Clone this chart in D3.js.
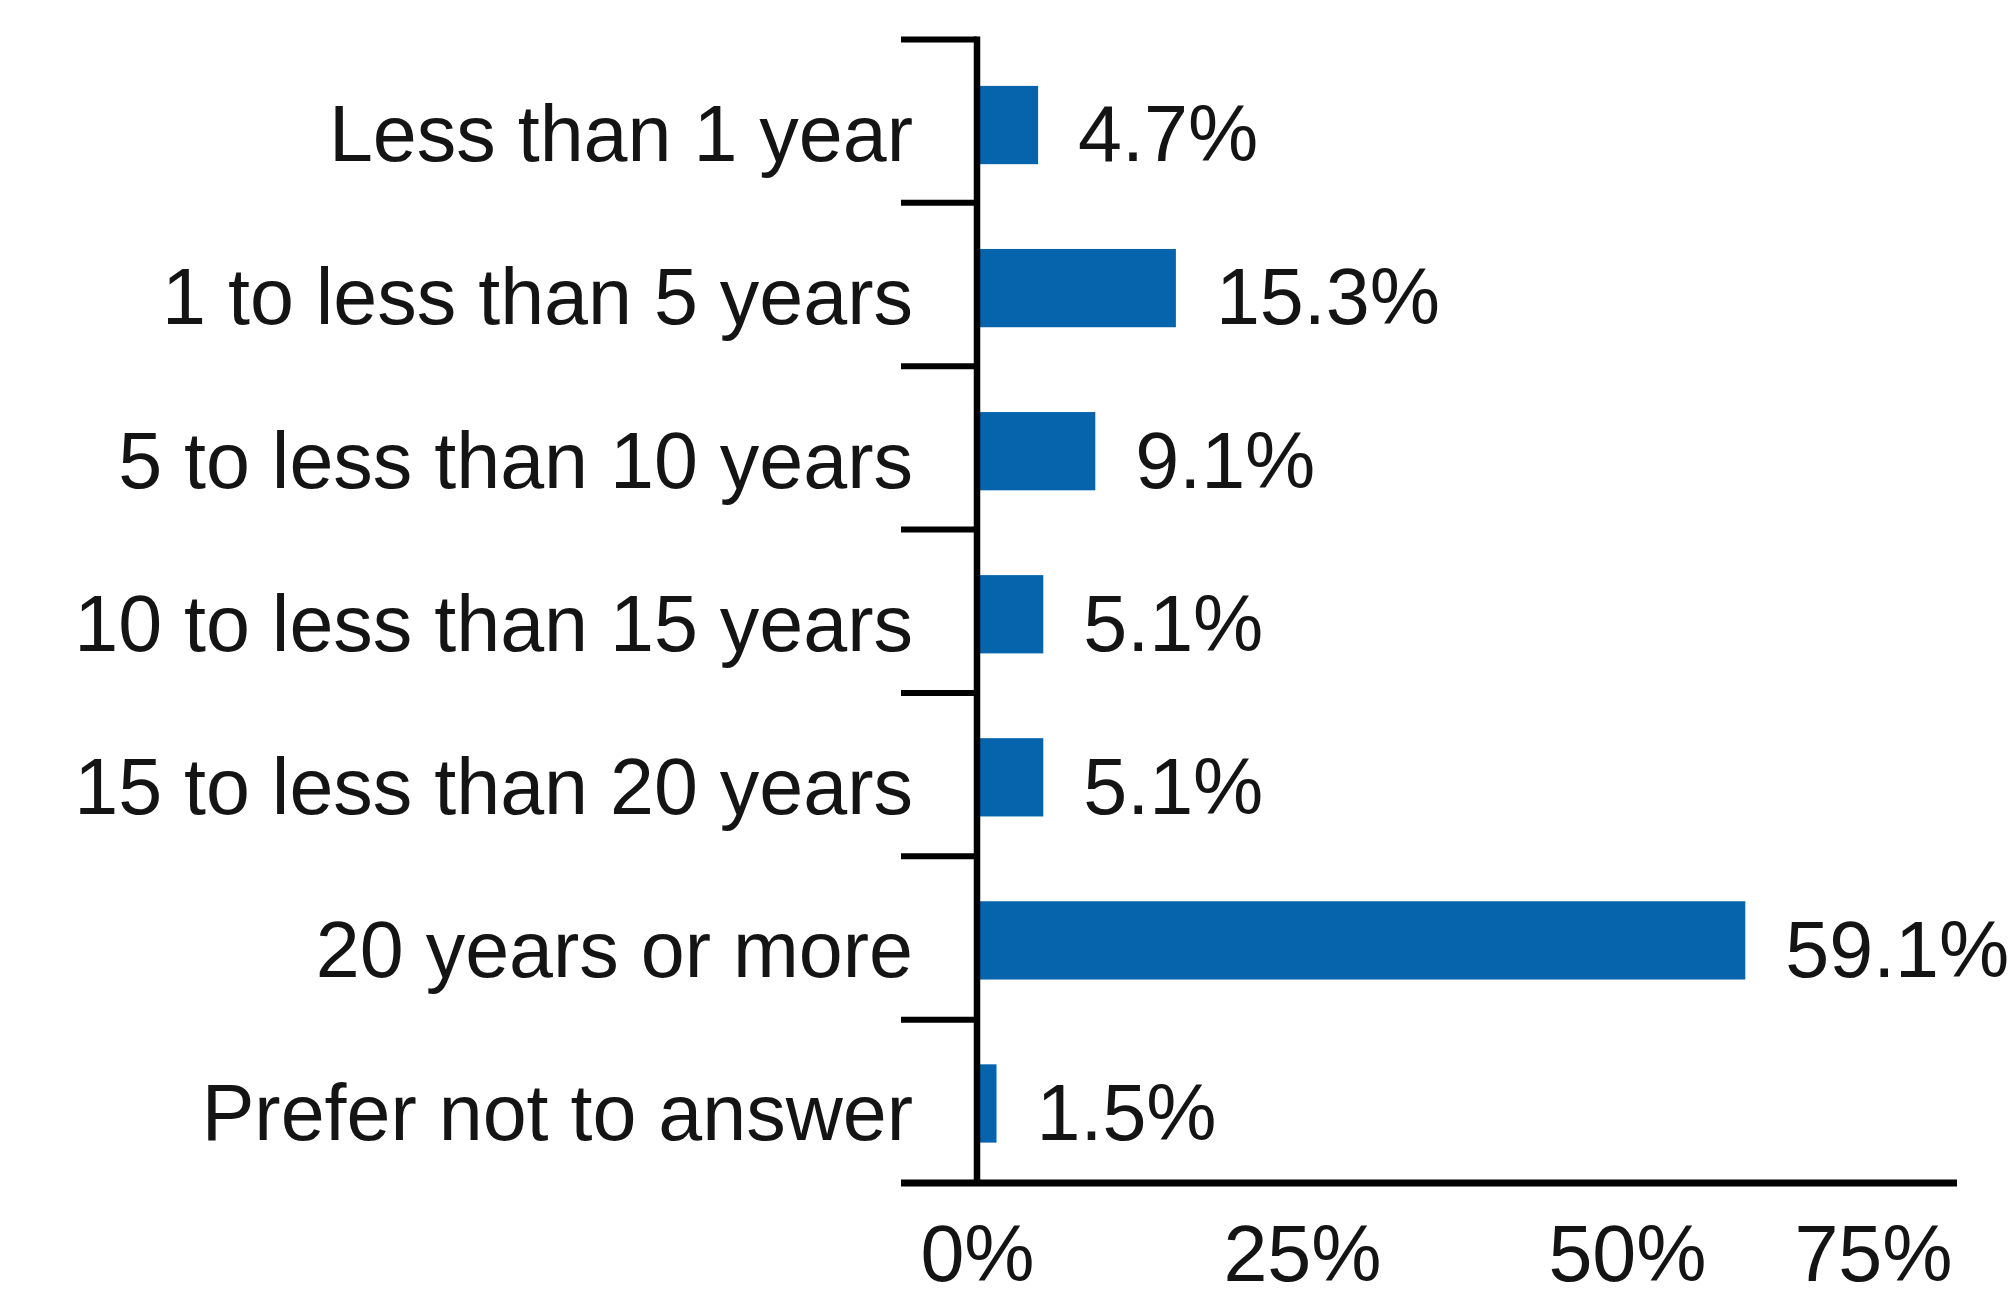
<!DOCTYPE html>
<html>
<head>
<meta charset="utf-8">
<script src="https://cdn.jsdelivr.net/npm/d3@7"></script>
<style>
  html, body { margin: 0; padding: 0; background: #fff; }
  svg { display: block; }
  text { font-family: "Liberation Sans", Arial, sans-serif; fill: #141414; }
</style>
</head>
<body>
<svg id="chart" width="2014" height="1298"></svg>
<script>
'use strict';
// chart values
let categories = [
    "Less than 1 year",
    "1 to less than 5 years",
    "5 to less than 10 years",
    "10 to less than 15 years",
    "15 to less than 20 years",
    "20 years or more",
    "Prefer not to answer"
];
let shares = [4.7, 15.3, 9.1, 5.1, 5.1, 59.1, 1.5];
let xTicks = [0, 25, 50, 75];

let svg = d3.select("#chart"),
    axisX = 977,
    plotTop = 39.5,
    plotBottom = 1183,
    fontSize = 79;

let x = d3.scaleLinear()
    .domain([0, 75])
    .range([axisX, 1952]);

let y = d3.scaleBand()
    .domain(categories)
    .range([plotTop + 4, plotBottom + 2])
    .paddingInner(0.52)
    .paddingOuter(0.26);

// boundaries between categories, used for the bracket ticks
let yEdge = d3.scaleLinear()
    .domain([0, categories.length])
    .range([plotTop, plotBottom]);

// bars
svg.append("g")
    .selectAll("rect")
    .data(shares)
    .enter()
    .append("rect")
    .attr("x", x(0))
    .attr("y", (d, i) => y(categories[i]))
    .attr("width", d => x(d) - x(0))
    .attr("height", y.bandwidth())
    .attr("fill", "#0564ac");

// value labels
svg.append("g")
    .selectAll("text")
    .data(shares)
    .enter()
    .append("text")
    .attr("x", d => x(d) + 40)
    .attr("y", (d, i) => y(categories[i]) + y.bandwidth() / 2)
    .attr("dy", "0.46em")
    .style("font-size", fontSize + "px")
    .text(d => d.toFixed(1) + "%");

// category labels
let yAxis = svg.append("g")
    .attr("transform", "translate(" + axisX + ",0)")
    .call(d3.axisLeft(y).tickSize(0).tickPadding(64));
yAxis.select(".domain").remove();
yAxis.selectAll("text")
    .attr("dy", "0.46em")
    .style("font-size", fontSize + "px")
    .style("font-family", "Liberation Sans, Arial, sans-serif")
    .attr("fill", "#141414");

// bracket ticks at category edges (last one is the x-axis baseline)
let edges = d3.range(categories.length);
svg.append("g")
    .selectAll("line")
    .data(edges)
    .enter()
    .append("line")
    .attr("x1", axisX - 76)
    .attr("x2", axisX)
    .attr("y1", d => yEdge(d))
    .attr("y2", d => yEdge(d))
    .attr("stroke", "#000")
    .attr("stroke-width", 6);

// vertical axis line
svg.append("line")
    .attr("x1", axisX).attr("x2", axisX)
    .attr("y1", yEdge(0) - 3).attr("y2", yEdge(categories.length))
    .attr("stroke", "#000")
    .attr("stroke-width", 6.5);

// horizontal axis line
svg.append("line")
    .attr("x1", axisX - 76).attr("x2", 1957)
    .attr("y1", yEdge(categories.length)).attr("y2", yEdge(categories.length))
    .attr("stroke", "#000")
    .attr("stroke-width", 7);

// x tick labels
let xAxis = svg.append("g")
    .attr("transform", "translate(0," + plotBottom + ")")
    .call(d3.axisBottom(x).tickValues(xTicks).tickSize(0).tickPadding(42).tickFormat(d => d + "%"));
xAxis.select(".domain").remove();
xAxis.selectAll("text")
    .style("font-size", fontSize + "px")
    .style("font-family", "Liberation Sans, Arial, sans-serif")
    .attr("fill", "#141414");
xAxis.selectAll(".tick")
    .filter(d => d === 75)
    .select("text")
    .attr("text-anchor", "end");
</script>
</body>
</html>
